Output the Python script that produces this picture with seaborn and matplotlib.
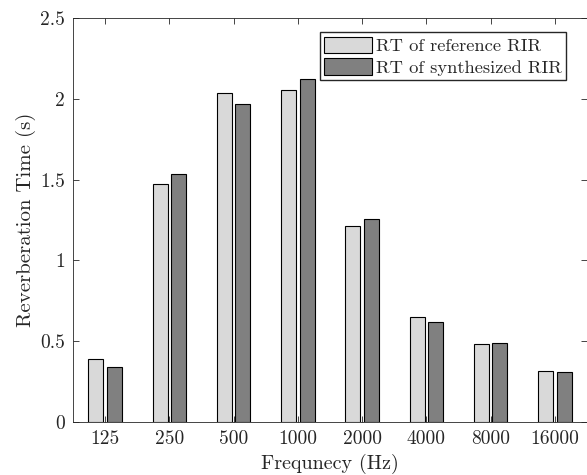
import pandas as pd
import matplotlib.pyplot as plt
import seaborn as sns

# dữ liệu
freqs = ['125', '250', '500', '1000', '2000', '4000', '8000', '16000']
rt_reference = [0.39, 1.47, 2.035, 2.055, 1.215, 0.648, 0.481, 0.314]
rt_synth = [0.338, 1.535, 1.97, 2.125, 1.255, 0.617, 0.487, 0.309]
series = ['RT of reference RIR', 'RT of synthesized RIR']

df = pd.DataFrame({
    'freq': freqs * 2,
    'rt': rt_reference + rt_synth,
    'series': [series[0]] * len(freqs) + [series[1]] * len(freqs),
})

sns.set_theme(style="ticks")
plt.rcParams['font.family'] = ['cmr10', 'DejaVu Serif']
plt.rcParams['axes.formatter.use_mathtext'] = True
plt.rcParams['mathtext.fontset'] = 'cm'

fig = plt.figure(figsize=(5.87, 4.75), dpi=100)
ax = fig.add_axes([0.1244, 0.1116, 0.8756, 0.8504])

sns.barplot(data=df, x='freq', y='rt', hue='series', order=freqs, hue_order=series,
            palette=['#d9d9d9', '#808080'], width=0.573, gap=0.187,
            edgecolor='black', linewidth=0.8, saturation=1, ax=ax)

ax.set_xlim(-0.5, 7.5)
ax.set_ylim(0, 2.5)
ax.set_yticks([0, 0.5, 1, 1.5, 2, 2.5])
ax.set_yticklabels(['0', '0.5', '1', '1.5', '2', '2.5'])
ax.set_xlabel('Frequnecy (Hz)', fontsize=14.5, color='#262626', labelpad=4)
ax.set_ylabel('Reverberation Time (s)', fontsize=15, color='#262626', labelpad=3)
ax.tick_params(direction='in', top=True, right=True, length=4, width=0.6,
               labelsize=14, colors='#262626', pad=6)
for s in ax.spines.values():
    s.set_linewidth(0.6)
    s.set_color('#262626')

ax.legend(loc='upper right', bbox_to_anchor=(0.96, 0.965), fontsize=13.3,
          frameon=True, fancybox=False, edgecolor='#262626', framealpha=1,
          handlelength=2.6, handleheight=1.0, handletextpad=0.2,
          borderpad=0.25, labelspacing=0.2, borderaxespad=0)

plt.savefig('out.png', dpi=100)
